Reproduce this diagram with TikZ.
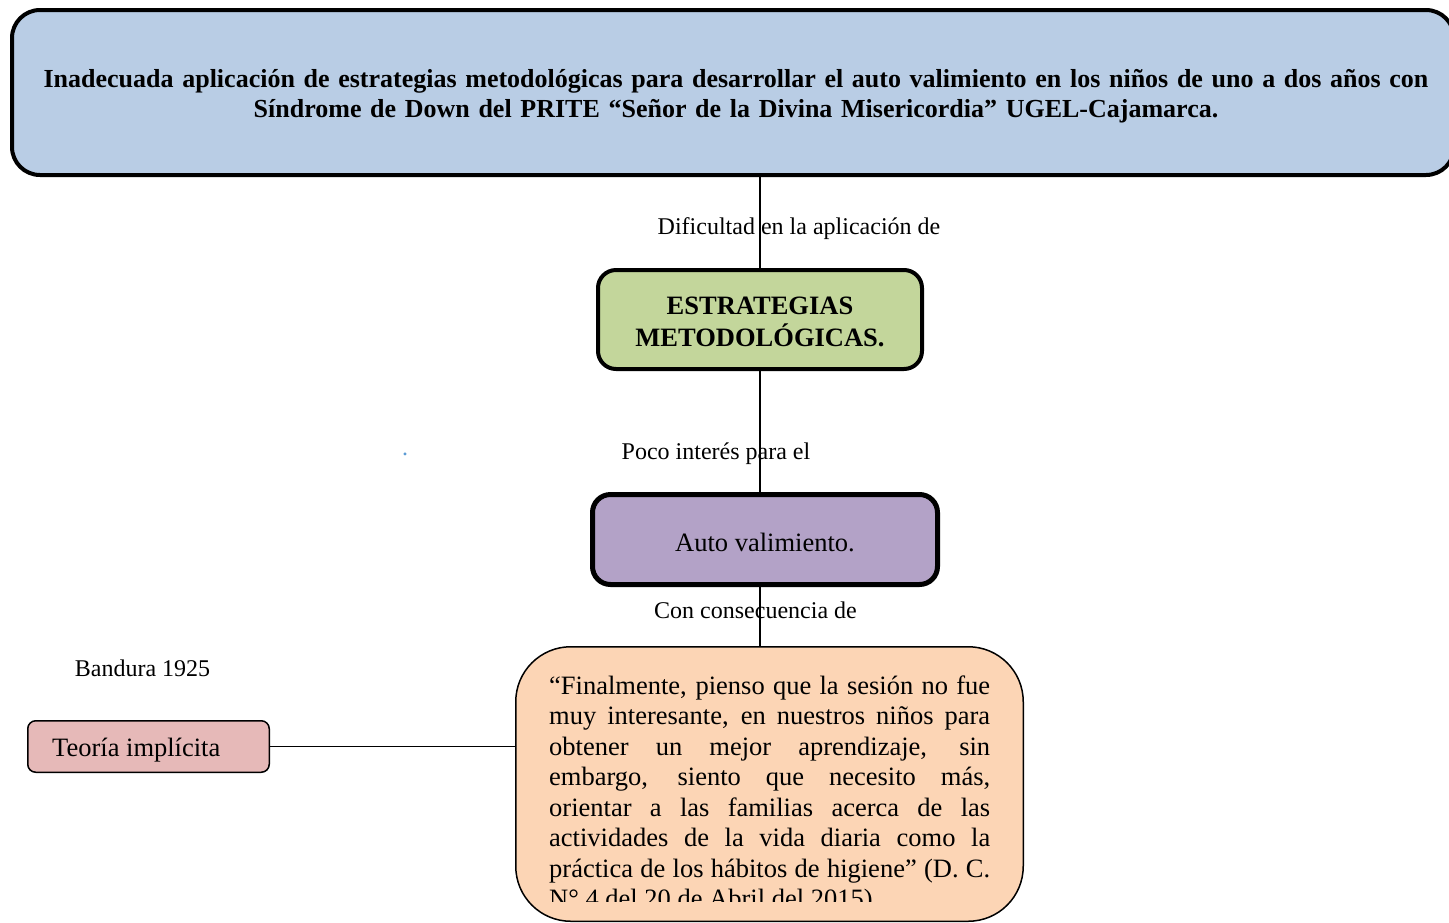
\documentclass[tikz,border=0pt]{standalone}
\usepackage{fontspec}
\setmainfont{Liberation Serif}
\definecolor{topblue}{HTML}{B9CDE5}
\definecolor{estgreen}{HTML}{C3D69B}
\definecolor{autopurple}{HTML}{B3A2C7}
\definecolor{quotepeach}{HTML}{FCD5B5}
\definecolor{teopink}{HTML}{E6B9B8}
\definecolor{dotblue}{HTML}{5B9BD5}
\begin{document}
\begin{tikzpicture}[x=1pt,y=-1pt,
  boxbase/.style={draw=black, inner sep=0pt, align=center},
  conn/.style={draw=black, line width=1.5pt},
  lbl/.style={inner sep=0pt, font=\fontsize{24}{28}\selectfont}]
\useasboundingbox (0,0) rectangle (1449,922);

\node[boxbase, fill=topblue, line width=4pt, rounded corners=28pt,
  minimum width=1442pt, minimum height=165pt] (top) at (733,92.5) {};
\node[inner sep=0pt, text width=1440pt, align=center,
  font=\bfseries\fontsize{26}{30}\selectfont] (toptext) at (736,96)
  {Inadecuada aplicación de estrategias metodológicas para desarrollar el auto valimiento en los niños de uno a dos años con\\
   Síndrome de Down del PRITE “Señor de la Divina Misericordia” UGEL-Cajamarca.};

\node[boxbase, fill=estgreen, line width=4pt, rounded corners=18pt,
  minimum width=324pt, minimum height=99pt] (est) at (760,319.5) {};
\node[inner sep=0pt, align=center,
  font=\bfseries\fontsize{26.5}{32}\selectfont] (esttext) at (760,322)
  {ESTRATEGIAS\\METODOLÓGICAS.};

\node[boxbase, fill=autopurple, line width=5pt, rounded corners=18pt,
  minimum width=345pt, minimum height=90pt] (auto) at (765,539.5) {};
\node[inner sep=0pt, font=\fontsize{26.5}{30}\selectfont] (autotext) at (765,542)
  {Auto valimiento.};

\node[boxbase, fill=quotepeach, line width=1.5pt, rounded corners=55pt,
  minimum width=507.5pt, minimum height=274.5pt] (q) at (769.5,784) {};

\begin{scope}
  \clip (540,660) rectangle (1000,901);
  \node[anchor=north west, inner sep=0pt, text width=441pt, align=justify,
    font=\fontsize{26.5}{30.5}\selectfont] (qtext) at (549,675.5)
    {“Finalmente, pienso que la sesión no fue\linebreak
     muy interesante, en nuestros niños para\linebreak
     obtener un mejor aprendizaje, sin\linebreak
     embargo, siento que necesito más,\linebreak
     orientar a las familias acerca de las\linebreak
     actividades de la vida diaria como la\linebreak
     práctica de los hábitos de higiene” (D. C.\linebreak
     N° 4 del 20 de Abril del 2015).};
\end{scope}

\node[draw=black, fill=teopink, line width=1.5pt, rounded corners=8pt,
  minimum width=241.5pt, minimum height=51.5pt, inner sep=0pt] (teo) at (148.5,746.5) {};
\node[anchor=west, inner sep=0pt, font=\fontsize{26.5}{30}\selectfont] (teotext) at (52,750.5)
  {Teoría implícita};

\node[lbl] (band) at (142.5,668) {Bandura 1925};
\node[lbl] (lab1) at (799,229) {Dificultad en la aplicación de};
\node[lbl] (lab2) at (716,454) {Poco interés para el};
\node[lbl] (lab3) at (755.5,610) {Con consecuencia de};
\node[lbl, text=dotblue] (dot) at (405,454) {.};

\draw[conn] (top.south -| est.north) -- (est.north);
\draw[conn] (est.south) -- (est.south |- auto.north);
\draw[conn] (est.south |- auto.south) -- (est.south |- q.north);
\draw[conn] (teo.east) -- (teo.east -| q.west);
\end{tikzpicture}
\end{document}
